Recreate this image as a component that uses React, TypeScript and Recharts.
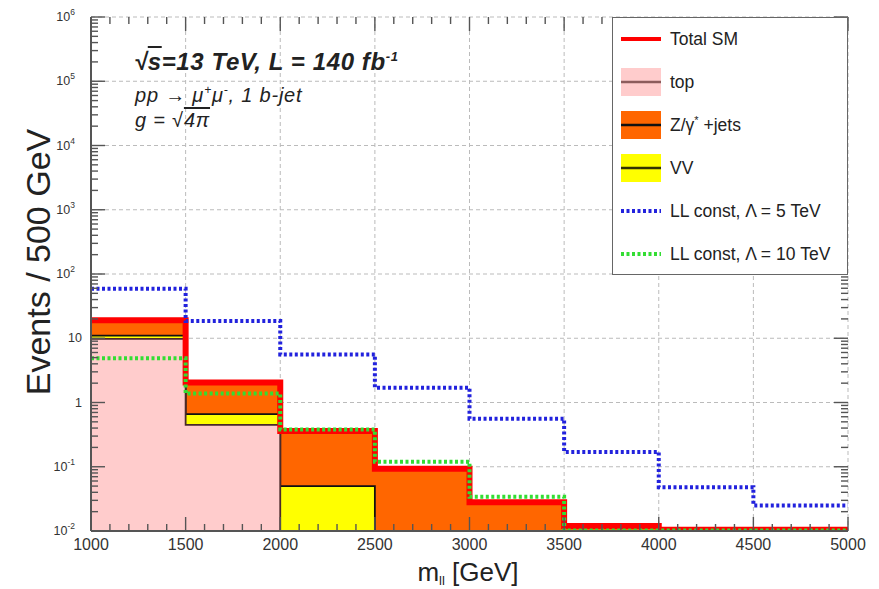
import React from 'react';
import { ComposedChart, Area, Line, XAxis, YAxis, CartesianGrid, Legend, ReferenceLine } from 'recharts';

// ---- data (per 500 GeV bin) ----
const binEdges = [1000, 1500, 2000, 2500, 3000, 3500, 4000, 4500, 5000];
const topBkg = [9.8, 0.45, 0, 0, 0, 0, 0, 0];
const vvBkg = [1.2, 0.21, 0.05, 0, 0, 0, 0, 0];
const zJets = [8.0, 1.39, 0.31, 0.093, 0.028, 0.012, 0.0105, 0.0105];
const ll5 = [59, 18.6, 5.6, 1.7, 0.56, 0.17, 0.048, 0.025];
const ll10 = [4.9, 1.38, 0.38, 0.12, 0.034, 0.0102, 0.0102, 0.0102];

// ---- ticks ----
const xMajorTicks = [1000, 1500, 2000, 2500, 3000, 3500, 4000, 4500, 5000];
const xTickLabels = ['1000', '1500', '2000', '2500', '3000', '3500', '4000', '4500', '5000'];
const yMajorTicks = [0.01, 0.1, 1, 10, 100, 1000, 10000, 100000, 1000000];
const yTickExponents = [-2, -1, 0, 1, 2, 3, 4, 5, 6];

const X_MIN = 1000;
const X_MAX = 5000;
const Y_MIN = 0.01;
const Y_MAX = 1000000;

const xAllTicks: number[] = [];
xMajorTicks.forEach((m, i) => {
  xAllTicks.push(m);
  if (i < xMajorTicks.length - 1) for (let k = 1; k < 5; k++) xAllTicks.push(m + k * 100);
});
const yAllTicks: number[] = [];
yMajorTicks.forEach((m, i) => {
  yAllTicks.push(m);
  if (i < yMajorTicks.length - 1) for (let k = 2; k < 10; k++) yAllTicks.push(m * k);
});

const legendItems = [
  { label: 'Total SM', kind: 'line', color: '#ff0000' },
  { label: 'top', kind: 'box', fill: '#ffcccc', color: '#8c5c5c' },
  { label: 'Z/γ* +jets', kind: 'box', fill: '#ff6600', color: '#111111' },
  { label: 'VV', kind: 'box', fill: '#ffff00', color: '#333300' },
  { label: 'LL const, Λ = 5 TeV', kind: 'dots', color: '#2222dd' },
  { label: 'LL const, Λ = 10 TeV', kind: 'dots', color: '#33dd33' },
];

const pos = (v: number) => (v > 0 ? v : 1e-4);
const rows = binEdges.map((x, i) => {
  const b = Math.min(i, topBkg.length - 1);
  const t = topBkg[b];
  const v = vvBkg[b];
  const z = zJets[b];
  return {
    x,
    top: pos(t),
    topVV: pos(t + v),
    stack: pos(t + v + z),
    total: pos(t + v + z),
    ll5: ll5[b],
    ll10: ll10[b],
  };
});

const FONT = "'Liberation Sans', Arial, Helvetica, sans-serif";
const AX = '#555';

const majorYIndex = (v: number) => yMajorTicks.findIndex((m) => Math.abs(m - v) / m < 1e-6);
const isMajorX = (v: number) => xMajorTicks.includes(v);

// inward tick marks (ROOT style), built from the tick lists
// lengths: ~14 px major / 7 px minor, expressed in axis units
const X_TICK_MAJ = 74;
const X_TICK_MIN = 37;
const Y_TICK_MAJ = 1.65;
const Y_TICK_MIN = 1.285;
type Seg = { key: string; segment: { x: number; y: number }[] };
const tickSegments: Seg[] = [];
yAllTicks.forEach((v) => {
  const major = majorYIndex(v) >= 0;
  const dx = major ? X_TICK_MAJ : X_TICK_MIN;
  tickSegments.push({ key: `l${v}`, segment: [{ x: X_MIN, y: v }, { x: X_MIN + dx, y: v }] });
  tickSegments.push({ key: `r${v}`, segment: [{ x: X_MAX, y: v }, { x: X_MAX - dx, y: v }] });
});
xAllTicks.forEach((v) => {
  const f = isMajorX(v) ? Y_TICK_MAJ : Y_TICK_MIN;
  tickSegments.push({ key: `b${v}`, segment: [{ x: v, y: Y_MIN }, { x: v, y: Y_MIN * f }] });
  tickSegments.push({ key: `t${v}`, segment: [{ x: v, y: Y_MAX }, { x: v, y: Y_MAX / f }] });
});

const YLabel = ({ x, y, idx }: { x: number; y: number; idx: number }) => {
  const e = yTickExponents[idx];
  if (e === 0 || e === 1) {
    return (
      <text x={x} y={y + 4} textAnchor="end" fontSize={12.5} fontFamily={FONT} fill="#333">
        {e === 0 ? '1' : '10'}
      </text>
    );
  }
  return (
    <text x={x - 7} y={y + 4} textAnchor="end" fontSize={12.5} fontFamily={FONT} fill="#333">
      10
      <tspan fontSize={8.5} dy={-6}>
        {String(e)}
      </tspan>
    </text>
  );
};

const renderLeftTick = (props: any) => {
  const x = Number(props.x);
  const y = Number(props.y);
  const idx = majorYIndex(Number(props.payload.value));
  if (idx < 0) return <g />;
  return <YLabel x={x - 9} y={y} idx={idx} />;
};
const renderBottomTick = (props: any) => {
  const x = Number(props.x);
  const y = Number(props.y);
  const v = Number(props.payload.value);
  const idx = xMajorTicks.indexOf(v);
  if (idx < 0) return <g />;
  return (
    <text x={x} y={y + 19} textAnchor="middle" fontSize={16} fontFamily={FONT} fill="#333">
      {xTickLabels[idx]}
    </text>
  );
};
const renderNone = () => <g />;

const LegendBox = () => (
  <div
    style={{
      width: 236,
      height: 258,
      boxSizing: 'border-box',
      border: '1.5px solid #666',
      background: '#fff',
      position: 'relative',
      fontFamily: FONT,
    }}
  >
    {legendItems.map((it, i) => {
      const cy = 21 + 43 * i;
      return (
        <div key={it.label} style={{ position: 'absolute', left: 0, top: cy - 16, height: 32, width: 234 }}>
          <svg width={50} height={32} style={{ position: 'absolute', left: 6, top: 0 }}>
            {it.kind === 'box' && <rect x={2} y={2} width={40} height={28} fill={it.fill} />}
            {it.kind === 'dots' ? (
              <line x1={2} x2={42} y1={16} y2={16} stroke={it.color} strokeWidth={4} strokeDasharray="3 2.5" />
            ) : (
              <line x1={2} x2={42} y1={16} y2={16} stroke={it.color} strokeWidth={it.kind === 'line' ? 4 : 2.5} />
            )}
          </svg>
          <div style={{ position: 'absolute', left: 57, top: 8, fontSize: 17.5, lineHeight: 1, color: '#222', whiteSpace: 'nowrap' }}>
            {it.label === 'Z/γ* +jets' ? (
              <span>
                Z/γ<span style={{ fontSize: 11, verticalAlign: 'super', lineHeight: 0 }}>*</span> +jets
              </span>
            ) : (
              it.label
            )}
          </div>
        </div>
      );
    })}
  </div>
);

export default function App() {
  return (
    <div style={{ position: 'absolute', left: 0, top: 0, width: 879, height: 589, background: '#fff' }}>
      <ComposedChart width={879} height={589} data={rows} margin={{ top: 17, right: 31, bottom: 0, left: 0 }}>
        <CartesianGrid
          xAxisId="b"
          yAxisId="l"
          horizontalValues={yMajorTicks}
          verticalValues={xMajorTicks}
          stroke="#bbb"
          strokeDasharray="4 3"
        />
        <XAxis
          xAxisId="b"
          dataKey="x"
          type="number"
          domain={[X_MIN, X_MAX]}
          ticks={xMajorTicks}
          interval={0}
          tickSize={0}
          tickMargin={0}
          tick={renderBottomTick}
          height={58}
          allowDataOverflow
          axisLine={{ stroke: AX, strokeWidth: 2 }}
          tickLine={false}
        />
        <XAxis
          xAxisId="t"
          orientation="top"
          dataKey="x"
          type="number"
          domain={[X_MIN, X_MAX]}
          ticks={xMajorTicks}
          interval={0}
          tick={renderNone}
          tickSize={0}
          height={0}
          allowDataOverflow
          axisLine={{ stroke: AX, strokeWidth: 2 }}
          tickLine={false}
        />
        <YAxis
          yAxisId="l"
          type="number"
          scale="log"
          domain={[Y_MIN, Y_MAX]}
          ticks={yMajorTicks}
          interval={0}
          tickSize={0}
          tickMargin={0}
          tick={renderLeftTick}
          width={91}
          allowDataOverflow
          axisLine={{ stroke: AX, strokeWidth: 2 }}
          tickLine={false}
        />
        <YAxis
          yAxisId="r"
          orientation="right"
          type="number"
          scale="log"
          domain={[Y_MIN, Y_MAX]}
          ticks={yMajorTicks}
          interval={0}
          tick={renderNone}
          tickSize={0}
          width={0}
          allowDataOverflow
          axisLine={{ stroke: AX, strokeWidth: 2 }}
          tickLine={false}
        />
        <Area xAxisId="b" yAxisId="l" type="stepAfter" dataKey="stack" baseValue="dataMin" fill="#ff6600" fillOpacity={1} stroke="#111" strokeWidth={1.5} isAnimationActive={false} dot={false} activeDot={false} />
        <Area xAxisId="b" yAxisId="l" type="stepAfter" dataKey="topVV" baseValue="dataMin" fill="#ffff00" fillOpacity={1} stroke="#111" strokeWidth={1.8} isAnimationActive={false} dot={false} activeDot={false} />
        <Area xAxisId="b" yAxisId="l" type="stepAfter" dataKey="top" baseValue="dataMin" fill="#ffcccc" fillOpacity={1} stroke="#4a2a2a" strokeWidth={1.8} isAnimationActive={false} dot={false} activeDot={false} />
        <Line xAxisId="b" yAxisId="l" type="stepAfter" dataKey="total" stroke="#ff0000" strokeWidth={6} dot={false} activeDot={false} isAnimationActive={false} />
        <Line xAxisId="b" yAxisId="l" type="stepAfter" dataKey="ll10" stroke="#33dd33" strokeWidth={4} strokeDasharray="3 2.5" dot={false} activeDot={false} isAnimationActive={false} />
        <Line xAxisId="b" yAxisId="l" type="stepAfter" dataKey="ll5" stroke="#2222dd" strokeWidth={4} strokeDasharray="3 2.5" dot={false} activeDot={false} isAnimationActive={false} />
        {tickSegments.map((s) => (
          <ReferenceLine
            key={s.key}
            xAxisId="b"
            yAxisId="l"
            segment={s.segment}
            stroke={AX}
            strokeWidth={1.4}
            ifOverflow="visible"
          />
        ))}
        <Legend
          layout="vertical"
          align="center"
          verticalAlign="middle"
          wrapperStyle={{ position: 'absolute', left: 612, top: 17, width: 236, height: 258 }}
          content={() => <LegendBox />}
        />
      </ComposedChart>

      {/* annotations */}
      <div style={{ position: 'absolute', left: 134, top: 50, fontFamily: FONT, fontStyle: 'italic', fontWeight: 'bold', fontSize: 24, letterSpacing: 0.6, lineHeight: 1, color: '#222', whiteSpace: 'nowrap' }}>
        √<span style={{ textDecoration: 'overline' }}>s</span>=13 TeV, L = 140 fb
        <span style={{ fontSize: 13, verticalAlign: 'super', lineHeight: 0 }}>-1</span>
      </div>
      <div style={{ position: 'absolute', left: 135, top: 85, fontFamily: FONT, fontStyle: 'italic', fontSize: 20, letterSpacing: 0.8, lineHeight: 1, color: '#222', whiteSpace: 'nowrap' }}>
        pp → μ<span style={{ fontSize: 12, verticalAlign: 'super', lineHeight: 0 }}>+</span>μ
        <span style={{ fontSize: 12, verticalAlign: 'super', lineHeight: 0 }}>-</span>, 1 b-jet
      </div>
      <div style={{ position: 'absolute', left: 135, top: 110, fontFamily: FONT, fontStyle: 'italic', fontSize: 20, letterSpacing: 0.8, lineHeight: 1, color: '#222', whiteSpace: 'nowrap' }}>
        g = √<span style={{ textDecoration: 'overline' }}>4π</span>
      </div>

      {/* axis titles */}
      <div
        style={{
          position: 'absolute',
          left: 38,
          top: 262,
          transform: 'translate(-50%, -50%) rotate(-90deg)',
          fontFamily: FONT,
          fontSize: 34,
          lineHeight: 1,
          color: '#222',
          whiteSpace: 'nowrap',
        }}
      >
        Events / 500 GeV
      </div>
      <div
        style={{
          position: 'absolute',
          left: 468,
          top: 559,
          transform: 'translateX(-50%)',
          fontFamily: FONT,
          fontSize: 26,
          lineHeight: 1,
          color: '#222',
          whiteSpace: 'nowrap',
        }}
      >
        m<span style={{ fontSize: 13, position: 'relative', top: 4 }}>ll</span> [GeV]
      </div>
    </div>
  );
}
